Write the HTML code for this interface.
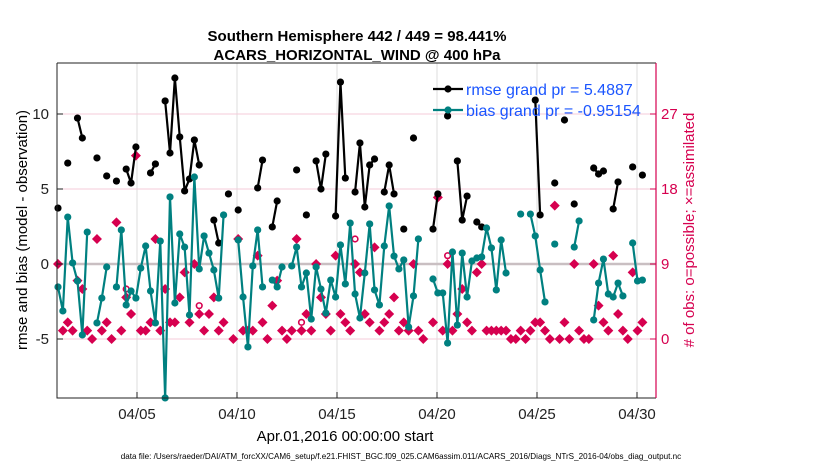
<!DOCTYPE html>
<html><head><meta charset="utf-8">
<style>
body{margin:0;background:#fff;}
svg{display:block;font-family:"Liberation Sans",Arial,sans-serif;}
</style></head>
<body>
<svg id="chart" width="830" height="470" viewBox="0 0 830 470">
  <text x="357" y="41" text-anchor="middle" font-size="15" font-weight="bold">Southern Hemisphere 442 / 449 = 98.441%</text>
  <text x="357" y="60" text-anchor="middle" font-size="15" font-weight="bold">ACARS_HORIZONTAL_WIND @ 400 hPa</text>
  <g id="grid"></g>
  <g id="marks"></g>
  <g id="axes"></g>
  <text transform="translate(27,230) rotate(-90)" text-anchor="middle" font-size="15">rmse and bias (model - observation)</text>
  <text transform="translate(694,230) rotate(-90)" text-anchor="middle" font-size="15" fill="#d6004f"># of obs: o=possible; ×=assimilated</text>
  <text x="345" y="441" text-anchor="middle" font-size="15">Apr.01,2016 00:00:00 start</text>
  <text x="401" y="459" text-anchor="middle" font-size="8.1">data file: /Users/raeder/DAI/ATM_forcXX/CAM6_setup/f.e21.FHIST_BGC.f09_025.CAM6assim.011/ACARS_2016/Diags_NTrS_2016-04/obs_diag_output.nc</text>
  <g id="legend"></g>
</svg>
<script>
const tickDays = [4, 9, 14, 19, 24, 29];
const tickLabels = ["04/05", "04/10", "04/15", "04/20", "04/25", "04/30"];
const leftTicks = [10, 5, 0, -5];
const rightTicks = [27, 18, 9, 0];
const rmseIdx = [0,2,4,5,8,10,12,14,15,16,19,20,22,23,24,25,26,27,28,29,32,33,35,37,41,42,44,45,49,51,53,54,55,57,58,59,61,62,63,64,65,67,68,69,71,73,77,78,80,82,83,84,86,87,98,99,102,104,106,110,111,112,114,115,118,120];
const rmseVal = [3.73,6.73,9.73,8.4,7.07,5.87,5.53,6.33,5.4,7.8,6.07,6.67,10.87,7.4,12.4,8.47,4.87,5.67,8.27,6.6,2.93,1.4,4.67,3.6,5.07,6.93,2.47,4.2,6.27,3.27,6.87,5.0,7.33,3.2,12.13,5.73,4.8,8.07,3.8,6.6,7.0,4.8,6.6,4.67,2.33,8.4,2.33,4.67,9.87,6.87,2.93,4.53,2.8,2.47,10.93,3.27,5.4,9.6,4.0,6.4,6.0,6.2,3.67,5.47,6.47,5.93];
const biasIdx = [0,1,2,3,4,5,6,8,9,10,12,13,14,15,16,17,18,19,20,21,22,23,24,25,26,27,28,29,30,31,32,33,34,37,38,39,40,41,42,44,45,46,48,49,50,51,52,53,54,55,56,57,58,59,60,61,62,63,64,65,66,67,68,69,70,71,72,73,74,77,78,79,80,81,82,83,84,85,86,87,88,89,90,91,92,95,97,98,99,100,102,106,107,110,111,112,113,114,115,116,118,119,120];
const biasVal = [-1.53,-3.13,3.13,0.07,-1.13,-4.73,2.13,-3.93,-2.27,-0.2,-1.53,2.27,-2.73,-1.8,-2.27,-0.27,1.2,-1.8,-3.93,1.53,-8.93,4.47,-2.6,2.0,1.13,-3.4,5.8,-0.33,1.87,0.73,-0.4,-2.27,3.27,1.6,-2.2,-5.53,-0.13,2.27,-1.53,-1.07,-1.53,-0.2,-0.13,1.13,-1.53,-0.6,-3.67,-0.2,-1.67,-3.27,-1.07,-2.2,1.27,-1.33,2.73,-2.0,-3.6,-0.6,2.67,-1.73,-2.73,1.2,3.87,0.53,-0.33,0.27,-4.2,-2.13,1.67,-1.0,-1.93,-1.93,-5.27,0.8,-4.07,0.73,-2.2,0.2,0.4,0.47,2.4,1.07,-1.73,1.6,-0.6,3.33,3.33,1.87,-0.4,-2.53,1.33,1.13,2.87,-3.73,-1.27,0.33,-2.0,-2.2,-1.27,-2.13,1.4,-1.13,-1.07];
const usedIdx = [0,1,2,3,4,5,6,7,8,9,10,11,12,13,14,15,16,17,18,19,20,21,22,23,24,25,26,27,28,29,30,31,32,33,34,36,37,38,39,40,41,42,43,44,45,46,47,48,49,50,51,52,53,54,55,56,57,58,59,60,61,62,63,64,65,66,67,68,69,70,71,72,73,74,75,77,78,79,80,81,82,83,84,85,86,87,88,89,90,91,92,93,94,95,96,97,98,99,100,101,102,103,104,105,106,107,108,109,110,111,112,113,114,115,116,117,118,119,120];
const usedVal = [9,1,2,1,7,6,1,0,12,1,2,0,14,1,5,3,22,1,1,2,12,1,6,2,2,5,8,2,9,3,1,3,5,1,2,0,12,1,1,1,10,2,0,4,7,1,0,1,12,1,3,1,9,5,3,1,10,3,2,1,9,8,3,2,11,1,2,3,5,1,2,1,9,1,0,2,17,1,9,1,3,6,2,1,8,9,1,1,1,1,1,0,0,1,0,1,2,2,1,0,16,0,2,0,9,1,0,0,9,4,2,1,10,3,1,0,8,1,2];
const possIdx = [14, 29, 50, 61, 80];
const possVal = [6, 4, 2, 12, 10];

const NS = "http://www.w3.org/2000/svg";
const L = 57, R = 656, T = 63, B = 398;
const PINK = "#d6004f", TEAL = "#008080";
function xIdx(i){ return 58 + 4.87 * i; }
function xDay(d){ return 57 + 20 * d; }
function yL(v){ return 264 - 15 * v; }
function yR(c){ return 339 - (75 / 9) * c; }
function mk(tag, attrs, parent){
  const e = document.createElementNS(NS, tag);
  for (const k in attrs) e.setAttribute(k, attrs[k]);
  parent.appendChild(e);
  return e;
}
const grid = document.getElementById("grid");
const marks = document.getElementById("marks");
const axes = document.getElementById("axes");
const legend = document.getElementById("legend");

tickDays.forEach((d, k) => {
  const g = mk("line", {x1: xDay(d), x2: xDay(d), y1: T, y2: B, stroke: "#dcdcdc", "stroke-width": 1}, grid);
  
  
});
rightTicks.forEach(c => {
  const g = mk("line", {x1: L, x2: R, y1: yR(c), y2: yR(c), stroke: "#f4cbd8", "stroke-width": 1}, grid);
  
  
});
const zl = mk("line", {x1: L, x2: R, y1: yL(0), y2: yL(0), stroke: "#c9bfc2", "stroke-width": 2.5}, grid);



function drawSeries(idx, val, color, name){
  let seg = [];
  const flush = () => {
    if (seg.length > 1) {
      const p = mk("polyline", {points: seg.join(" "), fill: "none", stroke: color, "stroke-width": 2.2}, marks);
      
      
    }
    seg = [];
  };
  idx.forEach((i, k) => {
    if (k > 0 && i - idx[k - 1] !== 1) flush();
    seg.push(xIdx(i) + "," + yL(val[k]));
  });
  flush();
  idx.forEach((i, k) => {
    const c = mk("circle", {cx: xIdx(i), cy: yL(val[k]), r: 3.6, fill: color}, marks);
    
    
  });
}
possIdx.forEach((i, k) => {
  const c = mk("circle", {cx: xIdx(i), cy: yR(possVal[k]), r: 2.8, fill: "none", stroke: PINK, "stroke-width": 1.6}, marks);
  
  
});
usedIdx.forEach((i, k) => {
  const x = xIdx(i), y = yR(usedVal[k]);
  const d = mk("path", {d: `M${x-5},${y} L${x},${y-5} L${x+5},${y} L${x},${y+5} Z`, fill: PINK}, marks);
  
  
});
drawSeries(rmseIdx, rmseVal, "#000", "rmse");
drawSeries(biasIdx, biasVal, TEAL, "bias");

const fr = mk("path", {d: `M${L},${T} L${L},${B} L${R},${B}`, fill: "none", stroke: "#222", "stroke-width": 1}, axes);


const tp = mk("line", {x1: L, x2: R, y1: T, y2: T, stroke: "#222", "stroke-width": 1}, axes);


const ra = mk("line", {x1: R, x2: R, y1: T, y2: B, stroke: PINK, "stroke-width": 1.2}, axes);


tickDays.forEach((d, k) => {
  const t = mk("line", {x1: xDay(d), x2: xDay(d), y1: B, y2: B - 6, stroke: "#222"}, axes);
  
  
  const lb = mk("text", {x: xDay(d), y: 419, "text-anchor": "middle", "font-size": 15, fill: "#222"}, axes);
  lb.textContent = tickLabels[k];
  
  
});
leftTicks.forEach(v => {
  const t = mk("line", {x1: L, x2: L + 6, y1: yL(v), y2: yL(v), stroke: "#222"}, axes);
  
  
  const lb = mk("text", {x: 49, y: yL(v) + 5, "text-anchor": "end", "font-size": 15, fill: "#222"}, axes);
  lb.textContent = String(v);
  
  
});
rightTicks.forEach(c => {
  const t = mk("line", {x1: R - 6, x2: R, y1: yR(c), y2: yR(c), stroke: PINK}, axes);
  
  
  const lb = mk("text", {x: 661, y: yR(c) + 5, "font-size": 15, fill: PINK}, axes);
  lb.textContent = String(c);
  
  
});

[["rmse grand pr = 5.4887", "#000", 89, "legend-entry-rmse"], ["bias grand pr = -0.95154", TEAL, 110, "legend-entry-bias"]].forEach(e => {
  const g = mk("g", {}, legend);
  
  
  mk("line", {x1: 433, x2: 463, y1: e[2], y2: e[2], stroke: e[1], "stroke-width": 2.2}, g);
  mk("circle", {cx: 448, cy: e[2], r: 3.6, fill: e[1]}, g);
  const t = mk("text", {x: 466, y: e[2] + 6, "font-size": 16, fill: "#1a55ff"}, g);
  t.textContent = e[0];
});
</script>
</body></html>
